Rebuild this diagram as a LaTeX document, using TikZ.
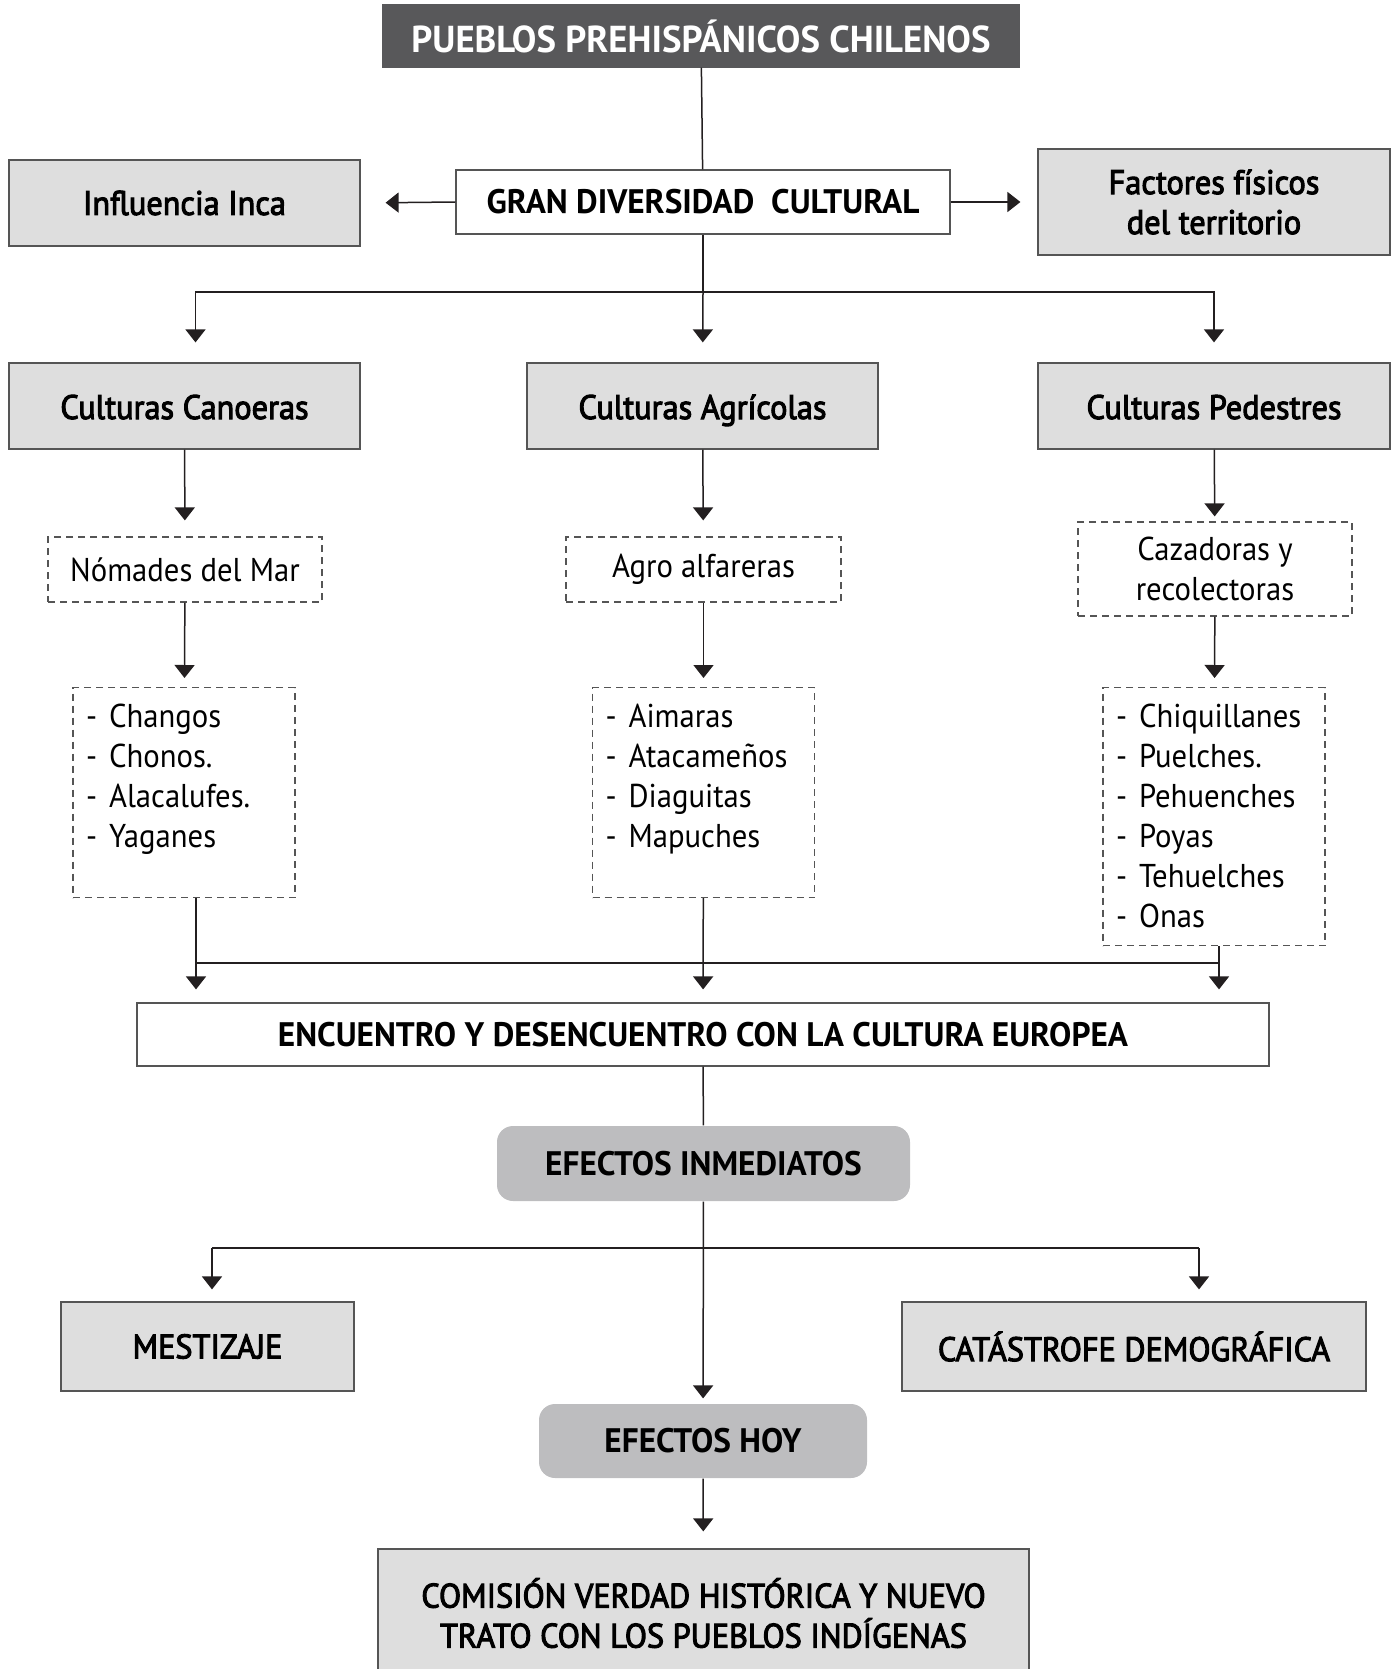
\documentclass[tikz,border=0pt]{standalone}
\usepackage{fontspec}
\setmainfont{PT Sans}[FakeStretch=0.93]
\newfontfamily\semi{PT Sans}[FakeStretch=0.95, FakeBold=3]
\newfontfamily\negrita{PT Sans}[FakeStretch=0.98]
\usetikzlibrary{arrows.meta}

\definecolor{negro}{HTML}{231F20}
\definecolor{borde}{HTML}{555555}
\definecolor{claro}{HTML}{DEDEDE}
\definecolor{oscuro}{HTML}{58585A}
\definecolor{medio}{HTML}{BDBDBF}

\newcommand{\lista}[2]{\begin{minipage}[c][#1][t]{196pt}\raggedright #2\end{minipage}}
\newcommand{\guion}{-\hspace{12pt}}

\tikzset{
  linea/.style={draw=negro, line width=1.5pt},
  flecha/.style={linea, -{Triangle[width=20pt,length=13pt]}},
  caja/.style={draw=borde, fill=claro, line width=1.2pt, align=center,
    font=\fontsize{34}{40}\selectfont\semi},
  cultura/.style={caja, minimum width=351pt, minimum height=86pt, text height=26pt, text depth=0pt},
  fuerte/.style={font=\fontsize{34}{40}\selectfont\negrita\bfseries},
  blanca/.style={caja, fuerte, fill=white},
  titulo/.style={caja, fill=oscuro, draw=oscuro, text=white,
    font=\fontsize{37.5}{40}\selectfont\negrita\bfseries},
  efecto/.style={caja, fuerte, fill=medio, draw=none, rounded corners=16pt},
  punteada/.style={draw=borde, line width=1.2pt, dash pattern=on 7pt off 5pt,
    align=center, font=\fontsize{33}{40}\selectfont},
  lista/.style={punteada, inner xsep=13pt, inner ysep=16pt, align=left}
}

\begin{document}
\begin{tikzpicture}[x=1pt,y=-1pt]
   \useasboundingbox (0,0) rectangle (1395,1669);
   % upper part
   \node[titulo, minimum width=636pt, minimum height=62pt] (pueblos) at (701,36) {PUEBLOS PREHISPÁNICOS CHILENOS};
   \node[blanca, minimum width=494pt, minimum height=64pt] (diversidad) at (703,202) {GRAN DIVERSIDAD\ \ CULTURAL};
   \node[caja, minimum width=351pt, minimum height=86pt] (inca) at (184.5,203) {Influencia Inca};
   \node[caja, minimum width=352pt, minimum height=106pt] (factores) at (1214,202) {Factores físicos\\del territorio};
   \node[cultura] (canoeras) at (184.5,406) {Culturas Canoeras};
   \node[cultura] (agricolas) at (702.5,406) {Culturas Agrícolas};
   \node[cultura, minimum width=352pt] (pedestres) at (1214,406) {Culturas Pedestres};
   \node[punteada, minimum width=274pt, minimum height=65pt] (nomades) at (185,569.5) {Nómades del Mar};
   \node[punteada, minimum width=275pt, minimum height=65pt] (agro) at (703.5,569.5) {Agro alfareras};
   \node[punteada, minimum width=274pt, minimum height=94pt] (cazadoras) at (1215,569) {Cazadoras y\\recolectoras};
   \node[lista, anchor=north] (changos) at (184,687) {\lista{178pt}{\guion Changos\\\guion Chonos.\\\guion Alacalufes.\\\guion Yaganes}};
   \node[lista, anchor=north] (aimaras) at (703.5,687) {\lista{178pt}{\guion Aimaras\\\guion Atacameños\\\guion Diaguitas\\\guion Mapuches}};
   \node[lista, anchor=north] (chiquillanes) at (1214,687) {\lista{226pt}{\guion Chiquillanes\\\guion Puelches.\\\guion Pehuenches\\\guion Poyas\\\guion Tehuelches\\\guion Onas}};
   % lower part
   \node[blanca, minimum width=1132pt, minimum height=63pt] (encuentro) at (703,1034.5) {ENCUENTRO Y DESENCUENTRO CON LA CULTURA EUROPEA};
   \node[efecto, minimum width=413pt, minimum height=75pt] (inmediatos) at (703.5,1163.5) {EFECTOS INMEDIATOS};
   \node[caja, minimum width=293pt, minimum height=89pt] (mestizaje) at (207.5,1346.5) {MESTIZAJE};
   \node[caja, minimum width=464pt, minimum height=89pt] (catastrofe) at (1134,1346.5) {CATÁSTROFE DEMOGRÁFICA};
   \node[efecto, minimum width=328pt, minimum height=74pt] (hoy) at (703,1441) {EFECTOS HOY};
   \node[caja, minimum width=651pt, minimum height=128pt] (comision) at (703.5,1613) {COMISIÓN VERDAD HISTÓRICA Y NUEVO\\TRATO CON LOS PUEBLOS INDÍGENAS};
   % connectors
   \coordinate (rama) at (703,292);
   \coordinate (j1) at (196,963);
   \coordinate (j3) at (1219,963);
   \coordinate (r1) at (212,1248);
   \coordinate (r2) at (1199,1248);
   \draw[linea] (pueblos) -- (diversidad);
   \draw[flecha, shorten >=25pt] (diversidad.west) -- (inca.east);
   \draw[flecha, shorten >=17pt] (diversidad.east) -- (factores.west);
   \draw[linea] (diversidad) -- (rama);
   \draw[flecha, shorten >=20pt] (rama) -| ([xshift=11pt]canoeras.north);
   \draw[flecha, shorten >=20pt] (rama) -- (agricolas);
   \draw[flecha, shorten >=20pt] (rama) -| (pedestres.north);
   \draw[flecha, shorten >=16pt] (canoeras) -- (nomades);
   \draw[flecha, shorten >=16pt] (agricolas) -- (agro);
   \draw[flecha, shorten >=5pt] (pedestres) -- (cazadoras);
   \draw[flecha, shorten >=9pt] (nomades) -- (changos);
   \draw[flecha, shorten >=9pt] (agro) -- (aimaras);
   \draw[flecha, shorten >=9pt] (cazadoras) -- (chiquillanes);
   \draw[linea] (j1) -- (j3);
   \draw[flecha, shorten >=13pt] (changos.south -| j1) -- (j1 |- encuentro.north);
   \draw[flecha, shorten >=13pt] (aimaras) -- (encuentro);
   \draw[flecha, shorten >=13pt] (chiquillanes.south -| j3) -- (j3 |- encuentro.north);
   \draw[linea] (encuentro) -- (inmediatos);
   \draw[flecha, shorten >=5pt] (inmediatos) -- (hoy);
   \draw[linea] (r1) -- (r2);
   \draw[flecha, shorten >=12pt] (r1) -- (r1 |- mestizaje.north);
   \draw[flecha, shorten >=12pt] (r2) -- (r2 |- catastrofe.north);
   \draw[flecha, shorten >=17pt] (hoy) -- (comision);
\end{tikzpicture}
\end{document}
